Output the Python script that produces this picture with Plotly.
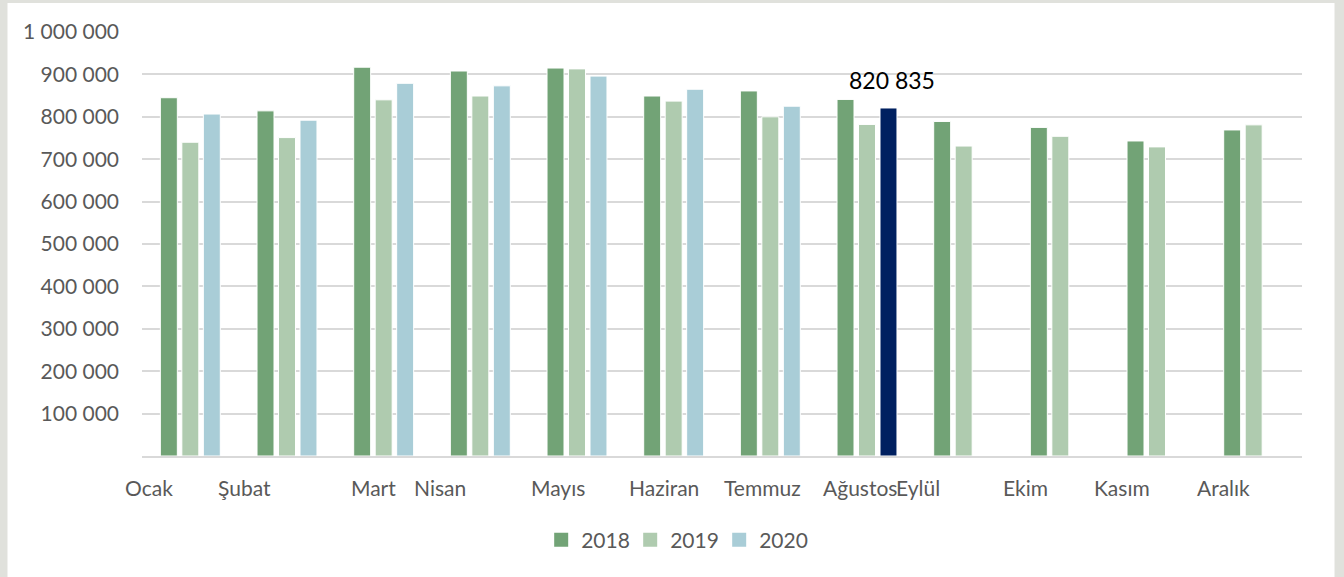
import plotly.graph_objects as go

months = ["Ocak", "Şubat", "Mart", "Nisan", "Mayıs", "Haziran", "Temmuz",
          "Ağustos", "Eylül", "Ekim", "Kasım", "Aralık"]
v2018 = [845000, 814000, 917000, 908000, 915000, 849000, 861000, 841000,
         789000, 775000, 743000, 769000]
v2019 = [740000, 751000, 840000, 849000, 913000, 837000, 800000, 782000,
         731000, 754000, 729000, 781000]
v2020 = [806500, 792000, 879000, 873000, 896000, 865000, 825000, 820835,
         None, None, None, None]
series_names = ["2018", "2019", "2020"]
highlight_month = "Ağustos"
highlight_label = "820 835"
yticks = [100000, 200000, 300000, 400000, 500000, 600000, 700000, 800000,
          900000, 1000000]

# horizontal nudges of the category labels (pixels), as in the original layout
label_shift = [-41, -43, -10, -40, -19, -10, -8, -7, -46, -35, -35, -30]

C18 = "#72A376"
C19 = "#AFCBAF"
C20 = "#A9CDD7"
NAVY = "#002060"
FONT = "Lato"
GREY_TXT = "#595959"

c20 = [NAVY if m == highlight_month else C20 for m in months]

fig = go.Figure()
for name, vals, col in zip(series_names, [v2018, v2019, v2020], [C18, C19, c20]):
    fig.add_trace(go.Bar(x=months, y=vals, name=name, showlegend=False,
                         marker=dict(color=col, line=dict(color="white", width=1))))
# legend entries with square swatches
for name, col in zip(series_names, [C18, C19, C20]):
    fig.add_trace(go.Scatter(x=[months[0]], y=[None], mode="markers", name=name,
                             marker=dict(symbol="square", size=14, color=col)))

# white chart panel on grey background
L, R, T, B = 142, 42, 32, 121
W, H = 1344, 577
pw, ph = W - L - R, H - T - B
def px_x(p):
    return (p - L) / pw
def px_y(p):
    return (H - B - p) / ph

fig.add_shape(type="rect", xref="paper", yref="paper",
              x0=px_x(7.5), x1=px_x(1334.5), y0=px_y(H + 5), y1=px_y(3),
              fillcolor="white", line=dict(width=0), layer="below")

annotations = []
for m, s in zip(months, label_shift):
    annotations.append(dict(x=m, y=px_y(487), xref="x", yref="paper", text=m,
                            showarrow=False, xshift=s, xanchor="center", yanchor="middle",
                            font=dict(family=FONT, size=21, color=GREY_TXT)))
hi_idx = months.index(highlight_month)
annotations.append(dict(x=highlight_month, y=v2020[hi_idx], xref="x", yref="y",
                        text=highlight_label, showarrow=False, xshift=25, yshift=12,
                        xanchor="center", yanchor="bottom",
                        font=dict(family=FONT, size=23, color="black")))

fig.update_layout(
    width=W, height=H,
    margin=dict(l=L, r=R, t=T, b=B, pad=0),
    paper_bgcolor="#E0E1DC",
    plot_bgcolor="white",
    separators=", ",
    barmode="group",
    bargap=0.333,
    bargroupgap=0.21,
    font=dict(family=FONT, size=21, color=GREY_TXT),
    showlegend=True,
    legend=dict(orientation="h", xref="container", yref="container",
                x=0.502, xanchor="center", y=(H - 540) / H, yanchor="middle",
                font=dict(family=FONT, size=21, color=GREY_TXT),
                bgcolor="rgba(0,0,0,0)", itemwidth=30, entrywidth=44),
    annotations=annotations,
)
fig.update_xaxes(range=[-0.5, len(months) - 0.5], categoryorder="array",
                 categoryarray=months,
                 showticklabels=False, showgrid=False, showline=True,
                 linecolor="#D9D9D9", linewidth=1.5, ticks="")
fig.update_yaxes(range=[0, 1000000], tickvals=yticks, tickformat=",d",
                 showgrid=True, gridcolor="#D9D9D9", gridwidth=1.5,
                 zeroline=False, showline=False, ticks="",
                 ticklabelstandoff=22,
                 tickfont=dict(family=FONT, size=21, color=GREY_TXT))

fig.write_html("out.html", config={"displayModeBar": False},
               post_script="document.body.style.margin='0';document.body.style.overflow='hidden';")
